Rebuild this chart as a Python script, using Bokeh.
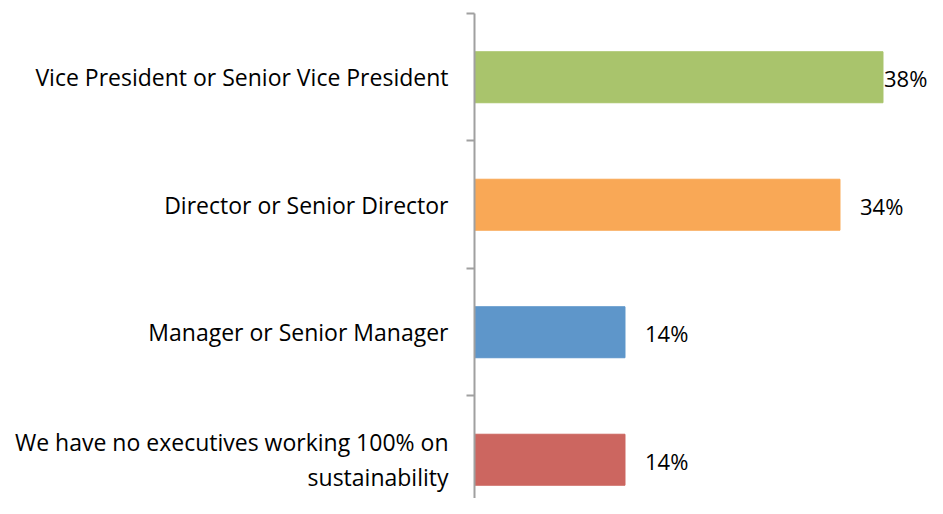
from bokeh.plotting import figure
from bokeh.models import ColumnDataSource, Range1d, FixedTicker, LinearAxis
from bokeh.embed import file_html
from bokeh.resources import INLINE
from bokeh.core.properties import value

categories = [
    "Vice President or Senior Vice President",
    "Director or Senior Director",
    "Manager or Senior Manager",
    "We have no executives working 100% on\nsustainability",
]
values = [38, 34, 14, 14]
value_labels = ["38%", "34%", "14%", "14%"]
colors = ["#A9C46C", "#F9A856", "#5E96CA", "#CC6660"]

FONT = "Open Sans"
n = len(categories)
ys = [n - 1 - i for i in range(n)]
offsets = [1 if v == max(values) else 20 for v in values]

src = ColumnDataSource(dict(y=ys, v=values, lab=value_labels, c=colors, off=offsets))

p = figure(width=927, height=498, output_backend="svg", toolbar_location=None,
           x_range=Range1d(0, 42.14), y_range=Range1d(-0.304, n - 0.5),
           x_axis_location=None, y_axis_location=None,
           min_border_left=474, min_border_top=13, min_border_right=0, min_border_bottom=0)
p.outline_line_color = None
p.xgrid.visible = False
p.ygrid.visible = False
p.background_fill_color = "white"
p.border_fill_color = "white"

p.hbar(y="y", left=0, right="v", height=0.4, color="c", source=src)
p.text(x="v", y="y", text="lab", x_offset="off", y_offset=1, source=src,
       text_font=value(FONT), text_font_size="22px", text_baseline="middle",
       text_align="left", text_color="black")

ax = LinearAxis(
    ticker=FixedTicker(ticks=ys, minor_ticks=[y + 0.5 for y in ys]),
    major_label_overrides={y: c for y, c in zip(ys, categories)},
)
ax.axis_line_color = "#A0A0A0"
ax.axis_line_width = 2
ax.major_tick_out = 0
ax.major_tick_in = 0
ax.minor_tick_out = 8
ax.minor_tick_in = 0
ax.minor_tick_line_color = "#A0A0A0"
ax.minor_tick_line_width = 2
ax.major_label_standoff = 18
ax.major_label_text_font = FONT
ax.major_label_text_font_size = "23px"
ax.major_label_text_line_height = 1.1
ax.major_label_text_color = "black"
p.add_layout(ax, "left")

open("out.html", "w").write(file_html(p, INLINE))
